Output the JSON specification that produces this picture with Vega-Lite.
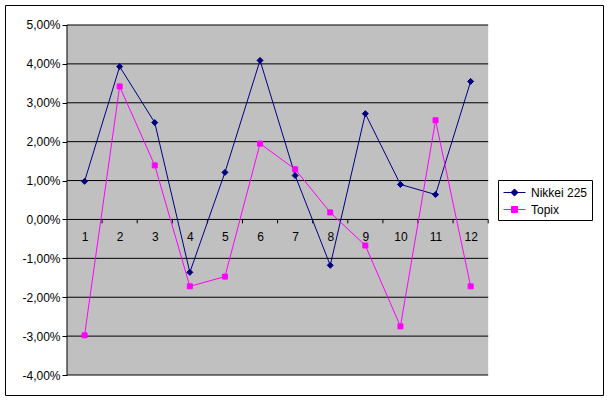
{
  "$schema": "https://vega.github.io/schema/vega-lite/v6.json",
  "width": 598,
  "height": 390,
  "autosize": {"type": "none"},
  "padding": {"left": 5, "top": 5, "right": 4, "bottom": 5},
  "background": "white",
  "config": {
    "view": {"stroke": "black", "strokeWidth": 1, "fill": "white"},
    "axis": {"labelFont": "Liberation Sans", "labelFontSize": 12, "labelColor": "black", "title": null},
    "legend": {"labelFont": "Liberation Sans", "labelFontSize": 12, "labelColor": "black"}
  },
  "datasets": {
    "returns": [
      {"series": "Nikkei 225", "month": 1, "value": 0.0098},
      {"series": "Nikkei 225", "month": 2, "value": 0.0393},
      {"series": "Nikkei 225", "month": 3, "value": 0.0249},
      {"series": "Nikkei 225", "month": 4, "value": -0.0136},
      {"series": "Nikkei 225", "month": 5, "value": 0.0121},
      {"series": "Nikkei 225", "month": 6, "value": 0.0409},
      {"series": "Nikkei 225", "month": 7, "value": 0.0113},
      {"series": "Nikkei 225", "month": 8, "value": -0.0118},
      {"series": "Nikkei 225", "month": 9, "value": 0.0272},
      {"series": "Nikkei 225", "month": 10, "value": 0.0090},
      {"series": "Nikkei 225", "month": 11, "value": 0.0064},
      {"series": "Nikkei 225", "month": 12, "value": 0.0355},
      {"series": "Topix", "month": 1, "value": -0.0298},
      {"series": "Topix", "month": 2, "value": 0.0342},
      {"series": "Topix", "month": 3, "value": 0.0139},
      {"series": "Topix", "month": 4, "value": -0.0172},
      {"series": "Topix", "month": 5, "value": -0.0147},
      {"series": "Topix", "month": 6, "value": 0.0195},
      {"series": "Topix", "month": 7, "value": 0.0129},
      {"series": "Topix", "month": 8, "value": 0.0018},
      {"series": "Topix", "month": 9, "value": -0.0067},
      {"series": "Topix", "month": 10, "value": -0.0275},
      {"series": "Topix", "month": 11, "value": 0.0255},
      {"series": "Topix", "month": 12, "value": -0.0172}
    ],
    "gridlines": [
      {"v": -0.04}, {"v": -0.03}, {"v": -0.02}, {"v": -0.01}, {"v": 0},
      {"v": 0.01}, {"v": 0.02}, {"v": 0.03}, {"v": 0.04}, {"v": 0.05}
    ],
    "boundaries": [
      {"b": 1.5}, {"b": 2.5}, {"b": 3.5}, {"b": 4.5}, {"b": 5.5}, {"b": 6.5},
      {"b": 7.5}, {"b": 8.5}, {"b": 9.5}, {"b": 10.5}, {"b": 11.5}, {"b": 12.5}
    ]
  },
  "resolve": {"scale": {"shape": "independent", "fill": "independent", "stroke": "independent"}},
  "layer": [
    {
      "data": {"values": [{}]},
      "mark": {"type": "rect", "color": "#C0C0C0"},
      "encoding": {
        "x": {
          "datum": 0.5, "type": "quantitative",
          "scale": {"domain": [-1.2664, 15.771], "nice": false, "zero": false},
          "axis": {
            "values": [1, 2, 3, 4, 5, 6, 7, 8, 9, 10, 11, 12],
            "offset": -176, "domain": false, "grid": false, "ticks": false,
            "labelPadding": 12, "title": null, "zindex": 1
          }
        },
        "x2": {"datum": 12.5},
        "y": {
          "datum": -0.04, "type": "quantitative",
          "scale": {"domain": [-0.04514, 0.05514], "nice": false, "zero": false},
          "axis": {
            "values": [-0.04, -0.03, -0.02, -0.01, 0, 0.01, 0.02, 0.03, 0.04, 0.05],
            "offset": -62, "domain": false, "grid": false, "ticks": true,
            "tickSize": 5, "tickColor": "black", "labelPadding": 2, "title": null,
            "labelExpr": "replace(replace(format(datum.value, '.2%'), '.', ','), '\u2212', '-')"
          }
        },
        "y2": {"datum": 0.05}
      }
    },
    {
      "data": {"name": "gridlines"},
      "mark": {"type": "rule", "color": "black", "strokeWidth": 1},
      "encoding": {
        "x": {"datum": 0.5, "type": "quantitative"},
        "x2": {"datum": 12.5},
        "y": {"field": "v", "type": "quantitative"}
      }
    },
    {
      "data": {"values": [{}]},
      "mark": {"type": "rule", "color": "black", "strokeWidth": 1},
      "encoding": {
        "x": {"datum": 0.5, "type": "quantitative"},
        "y": {"datum": -0.04, "type": "quantitative"},
        "y2": {"datum": 0.05}
      }
    },
    {
      "data": {"name": "boundaries"},
      "mark": {"type": "rule", "color": "black", "strokeWidth": 1},
      "encoding": {
        "x": {"field": "b", "type": "quantitative"},
        "y": {"datum": 0, "type": "quantitative"},
        "y2": {"datum": -0.001}
      }
    },
    {
      "data": {"name": "returns"},
      "mark": {"type": "line", "strokeWidth": 1},
      "encoding": {
        "x": {"field": "month", "type": "quantitative"},
        "y": {"field": "value", "type": "quantitative"},
        "color": {
          "field": "series", "type": "nominal", "legend": null,
          "scale": {"domain": ["Nikkei 225", "Topix"], "range": ["#000080", "#FF00FF"]}
        }
      }
    },
    {
      "data": {"name": "returns"},
      "mark": {"type": "point", "filled": true, "opacity": 1, "strokeWidth": 1},
      "encoding": {
        "x": {"field": "month", "type": "quantitative"},
        "y": {"field": "value", "type": "quantitative"},
        "fill": {
          "field": "series", "type": "nominal", "legend": null,
          "scale": {"domain": ["Nikkei 225", "Topix"], "range": ["#000080", "#FF00FF"]}
        },
        "stroke": {
          "field": "series", "type": "nominal", "legend": null,
          "scale": {"domain": ["Nikkei 225", "Topix"], "range": ["#000080", "#FF00FF"]}
        },
        "shape": {
          "field": "series", "type": "nominal", "legend": null,
          "scale": {"domain": ["Nikkei 225", "Topix"], "range": ["diamond", "square"]}
        },
        "size": {
          "field": "series", "type": "nominal", "legend": null,
          "scale": {"domain": ["Nikkei 225", "Topix"], "range": [36, 25]}
        }
      }
    },
    {
      "data": {"name": "returns"},
      "mark": {"type": "point", "filled": true, "opacity": 0},
      "encoding": {
        "x": {"field": "month", "type": "quantitative"},
        "y": {"field": "value", "type": "quantitative"},
        "fill": {
          "field": "series", "type": "nominal",
          "scale": {"domain": ["Nikkei 225", "Topix"], "range": ["#000080", "#FF00FF"]},
          "legend": {"orient": "none", "legendX": 493, "legendY": 175, "title": null, "padding": 4, "fillColor": "white", "strokeColor": "black", "symbolSize": 256, "symbolStrokeWidth": 1, "symbolOpacity": 1, "labelOffset": 12, "rowPadding": 2}
        },
        "stroke": {
          "field": "series", "type": "nominal",
          "scale": {"domain": ["Nikkei 225", "Topix"], "range": ["#000080", "#FF00FF"]},
          "legend": {"orient": "none", "legendX": 493, "legendY": 175, "title": null, "padding": 4, "fillColor": "white", "strokeColor": "black", "symbolSize": 256, "symbolStrokeWidth": 1, "symbolOpacity": 1, "labelOffset": 12, "rowPadding": 2}
        },
        "shape": {
          "field": "series", "type": "nominal",
          "scale": {
            "domain": ["Nikkei 225", "Topix"],
            "range": [
              "M-0.875,0L1.875,0M0.5,-0.44L0.94,0L0.5,0.44L0.06,0Z",
              "M-0.875,0L1.875,0M0.125,-0.375L0.875,-0.375L0.875,0.375L0.125,0.375Z"
            ]
          },
          "legend": {"orient": "none", "legendX": 493, "legendY": 175, "title": null, "padding": 4, "fillColor": "white", "strokeColor": "black", "symbolSize": 256, "symbolStrokeWidth": 1, "symbolOpacity": 1, "labelOffset": 12, "rowPadding": 2}
        }
      }
    }
  ]
}
